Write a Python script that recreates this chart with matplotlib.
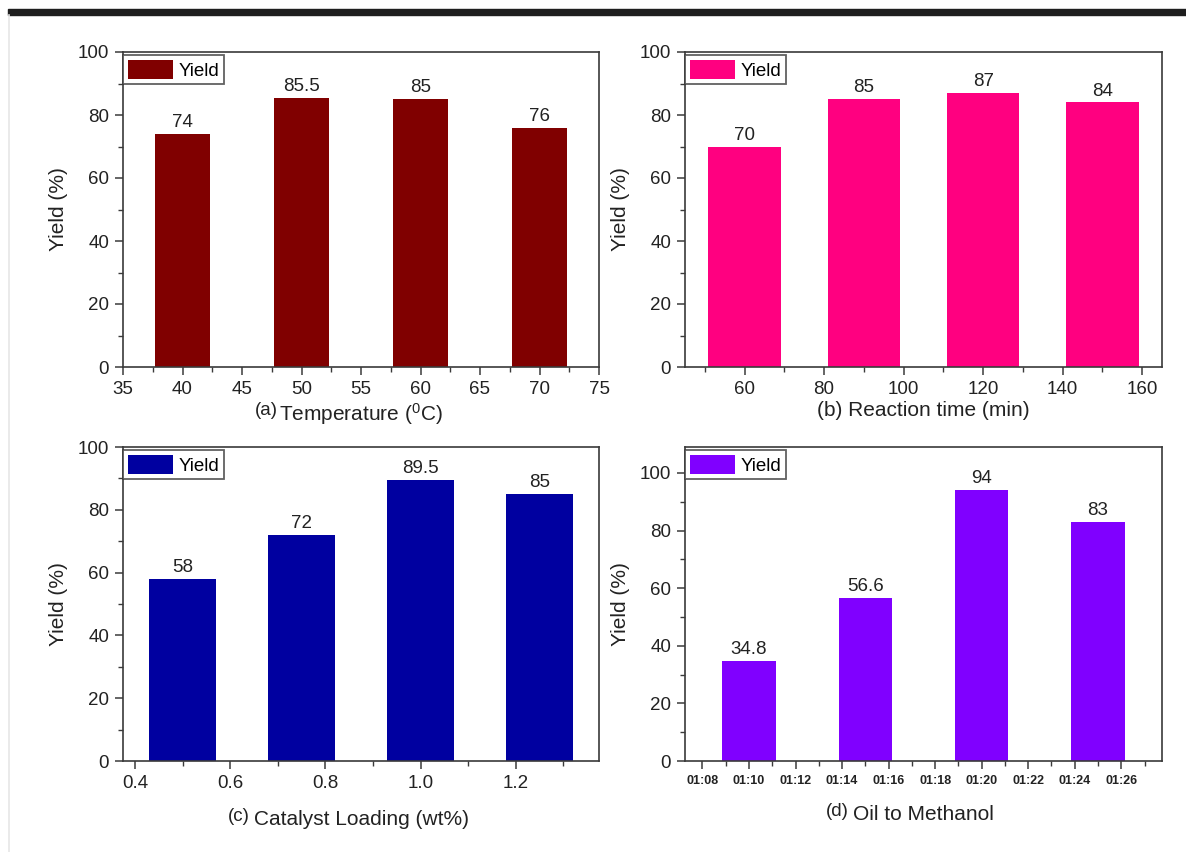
import matplotlib
matplotlib.use("Agg")
import matplotlib.pyplot as plt
from matplotlib.patches import Patch, Rectangle
from matplotlib.lines import Line2D
from matplotlib.ticker import MultipleLocator, FixedLocator, FormatStrFormatter

plt.rcParams['font.family'] = ['Liberation Sans', 'DejaVu Sans']
plt.rcParams['mathtext.fontset'] = 'custom'
plt.rcParams['mathtext.rm'] = 'Liberation Sans'

# ---- data ----
temp = [40, 50, 60, 70]
temp_yield = [74, 85.5, 85, 76]

time_min = [60, 90, 120, 150]
time_yield = [70, 85, 87, 84]

cat_load = [0.5, 0.75, 1.0, 1.25]
cat_yield = [58, 72, 89.5, 85]

ratio = [10, 15, 20, 25]
ratio_yield = [34.8, 56.6, 94, 83]
ratio_ticks = [8, 10, 12, 14, 16, 18, 20, 22, 24, 26]
ratio_ticklabels = ["01:08", "01:10", "01:12", "01:14", "01:16",
                    "01:18", "01:20", "01:22", "01:24", "01:26"]

W, H = 1186, 852
fig = plt.figure(figsize=(W / 100, H / 100), dpi=100)

TXT = '#222222'
SP = '#3a3a3a'
LBL = 15
TCK = 13.5

def ax_px(x0, y0, x1, y1):
    return fig.add_axes([x0 / W, 1 - y1 / H, (x1 - x0) / W, (y1 - y0) / H])

# top dark band and left faint border
fig.patches.append(Rectangle((8 / W, 1 - 15 / H), 1 - 8 / W, 6 / H,
                             transform=fig.transFigure, color='#1e1e1e', zorder=0))
fig.lines.append(Line2D([8.5 / W, 8.5 / W], [0, 1 - 15 / H],
                        transform=fig.transFigure, color='#e6e6e6', lw=1.2))

def style(ax, color, ylim, xlim):
    ax.set_xlim(*xlim)
    ax.set_ylim(*ylim)
    for s in ax.spines.values():
        s.set_color(SP)
        s.set_linewidth(1.2)
    ax.tick_params(which='both', direction='out', colors=SP, labelcolor=TXT,
                   top=False, right=False)
    ax.tick_params(which='major', length=6, width=1.1, labelsize=TCK, pad=4)
    ax.tick_params(which='minor', length=3.5, width=1.0)
    ax.yaxis.set_major_locator(MultipleLocator(20))
    ax.yaxis.set_minor_locator(MultipleLocator(10))
    ax.set_ylabel("Yield (%)", fontsize=LBL, color=TXT, labelpad=7)
    leg = ax.legend(handles=[Patch(facecolor=color, edgecolor='none', label='Yield')],
                    loc='upper left', bbox_to_anchor=(0.0, 0.99), borderaxespad=0,
                    fancybox=False, frameon=True, fontsize=13.5, handlelength=2.4,
                    handleheight=1.2, handletextpad=0.3, borderpad=0.25)
    leg.get_frame().set_edgecolor(SP)
    leg.get_frame().set_linewidth(1.3)

def bars(ax, x, y, w, color):
    ax.bar(x, y, width=w, color=color, edgecolor='none', zorder=2)
    for xi, yi in zip(x, y):
        ax.annotate(f"{yi:g}", (xi, yi), xytext=(0, 2), textcoords='offset points',
                    ha='center', va='bottom', fontsize=TCK, color=TXT)

# (a)
axa = ax_px(123, 52, 599, 367)
bars(axa, temp, temp_yield, 4.65, '#800000')
style(axa, '#800000', (0, 100), (35, 75))
axa.xaxis.set_major_locator(MultipleLocator(5))
axa.xaxis.set_minor_locator(MultipleLocator(2.5))
axa.set_xlabel(r"Temperature ($\mathregular{^0}$C)", fontsize=LBL, color=TXT, labelpad=2)

# (b)
axb = ax_px(685, 52, 1162, 367)
bars(axb, time_min, time_yield, 18.3, '#FF0080')
style(axb, '#FF0080', (0, 100), (45, 165))
axb.xaxis.set_major_locator(MultipleLocator(20))
axb.xaxis.set_minor_locator(MultipleLocator(10))
axb.set_xlabel("(b) Reaction time (min)", fontsize=LBL, color=TXT, labelpad=2)

# (c)
axc = ax_px(123, 447, 599, 761)
bars(axc, cat_load, cat_yield, 0.14, '#0000A0')
style(axc, '#0000A0', (0, 100), (0.375, 1.375))
axc.xaxis.set_major_locator(MultipleLocator(0.2))
axc.xaxis.set_minor_locator(MultipleLocator(0.1))
axc.xaxis.set_major_formatter(FormatStrFormatter('%.1f'))
axc.set_xlabel("Catalyst Loading (wt%)", fontsize=LBL, color=TXT, labelpad=13)

# (d)
axd = ax_px(685, 447, 1162, 761)
bars(axd, ratio, ratio_yield, 2.3, '#8000FF')
style(axd, '#8000FF', (0, 109), (7.25, 27.75))
axd.xaxis.set_major_locator(FixedLocator(ratio_ticks))
axd.set_xticklabels(ratio_ticklabels, fontsize=9, fontweight='bold')
axd.xaxis.set_minor_locator(MultipleLocator(1))
axd.set_xlabel("Oil to Methanol", fontsize=LBL, color=TXT, labelpad=13)

# small panel letters placed just left of the axis label text
fig.canvas.draw()
rend = fig.canvas.get_renderer()
for ax, letter, gap in [(axa, "(a)", 1), (axc, "(c)", 4), (axd, "(d)", 4)]:
    bb = ax.xaxis.label.get_window_extent(rend)
    fig.text((bb.x0 - gap) / W, (bb.y0 + bb.y1) / 2 / H + 3 / H, letter,
             fontsize=13.5, ha='right', va='center', color=TXT)

fig.savefig("out.png", dpi=100)
